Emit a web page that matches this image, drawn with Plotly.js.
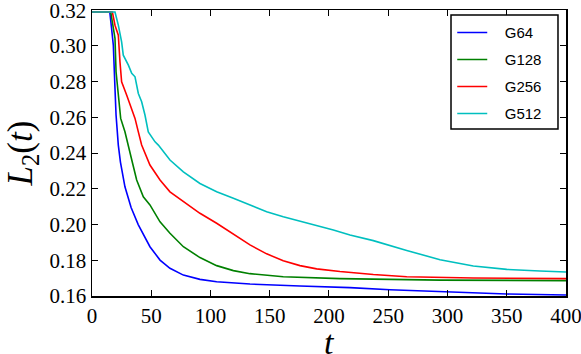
<!DOCTYPE html>
<html>
<head>
<meta charset="utf-8">
<script src="https://cdn.plot.ly/plotly-3.0.1.min.js"></script>
<style>
  html, body { margin: 0; padding: 0; background: #fff; }
  #grafica { width: 581px; height: 354px; }
</style>
</head>
<body>
<div id="grafica"></div>
<script>
// values
const tG64 = [0, 15, 16.5, 18, 19.4, 20.3, 22.2, 24, 27.8, 33, 39, 48.9, 57.4, 65.8, 77.1, 91.1, 105.2, 133.3, 175.5, 217.7, 251.5, 293.7, 350, 400];
const yG64 = [0.319, 0.319, 0.310, 0.3004, 0.2762, 0.2613, 0.2445, 0.235, 0.2211, 0.2095, 0.2000, 0.1876, 0.1801, 0.1755, 0.1717, 0.1693, 0.1680, 0.1667, 0.1656, 0.1647, 0.1635, 0.1624, 0.1611, 0.1606];

const tG128 = [0, 15.8, 17.5, 19.4, 20.3, 22.2, 24.2, 27.8, 30.7, 34.3, 37.7, 43.3, 48.9, 57.4, 65.8, 77.1, 91.1, 105.2, 119.3, 133.3, 161.4, 209, 293.7, 400];
const yG128 = [0.319, 0.319, 0.312, 0.3042, 0.2855, 0.2706, 0.2594, 0.2519, 0.2445, 0.2342, 0.2249, 0.2155, 0.2110, 0.2015, 0.1951, 0.1876, 0.1815, 0.1770, 0.1742, 0.1725, 0.1708, 0.1697, 0.1689, 0.1686];

const tG256 = [0, 17.2, 19.4, 22.2, 23.6, 25, 29.3, 33.5, 36.3, 39.1, 41.9, 48.9, 57.4, 65.8, 77.1, 91.1, 105.2, 119.3, 133.3, 147.4, 161.4, 175.5, 189.6, 209.3, 237.4, 265.6, 321.8, 400];
const yG256 = [0.319, 0.319, 0.3116, 0.3060, 0.2911, 0.2799, 0.2724, 0.2650, 0.2594, 0.2519, 0.2445, 0.2333, 0.2249, 0.2183, 0.2128, 0.2063, 0.2007, 0.1944, 0.1886, 0.1836, 0.1797, 0.1770, 0.1752, 0.1737, 0.1720, 0.1708, 0.1701, 0.1697];

const tG512 = [0, 19.4, 22.2, 25, 26.4, 30.7, 33.5, 36.3, 39.1, 41.9, 44.7, 47.5, 53.2, 56, 65.8, 77.1, 91.1, 105.2, 119.3, 133.3, 147.4, 161.4, 175.5, 189.6, 203.7, 217.7, 237.4, 265.6, 293.7, 321.8, 350, 378, 400];
const yG512 = [0.319, 0.319, 0.3116, 0.3023, 0.2948, 0.2892, 0.2846, 0.2827, 0.2734, 0.2687, 0.2613, 0.2519, 0.2463, 0.2445, 0.2361, 0.2295, 0.2230, 0.2184, 0.2147, 0.2109, 0.2072, 0.2044, 0.2020, 0.1993, 0.1969, 0.1941, 0.1910, 0.1855, 0.1803, 0.1768, 0.1749, 0.1740, 0.1734];

const nombres = ['G64', 'G128', 'G256', 'G512'];
const colores = ['#0000ff', '#008000', '#ff0000', '#00bfbf'];

const xs = [tG64, tG128, tG256, tG512];
const ys = [yG64, yG128, yG256, yG512];

// espacios para separar el texto de la linea en la leyenda
const hueco = '\u00a0\u00a0\u00a0';

let datos = nombres.map((nombre, i) => ({
    x: xs[i],
    y: ys[i],
    name: hueco + nombre,
    legendgroup: nombre,
    type: 'scatter',
    mode: 'lines',
    line: { color: colores[i], width: 1.6 }
}));

function eje(extra){
    return Object.assign({
        showline: true,
        linecolor: '#000',
        linewidth: 1.5,
        mirror: 'allticks',
        ticks: 'inside',
        ticklen: 6,
        tickwidth: 1,
        tickcolor: '#000',
        showgrid: false,
        zeroline: false,
        ticklabeloverflow: 'allow',
        tickfont: { family: 'Liberation Serif', size: 21, color: '#000' }
    }, extra);
}

let layout = {
    width: 581,
    height: 354,
    margin: { l: 92, r: 15, t: 10, b: 58 },
    paper_bgcolor: '#fff',
    plot_bgcolor: '#fff',
    showlegend: true,
    xaxis: eje({
        range: [0, 400.01],
        dtick: 50,
        tick0: 0
    }),
    yaxis: eje({
        range: [0.16, 0.3201],
        dtick: 0.02,
        tick0: 0.16,
        tickformat: '.2f',
        title: { text: '<i>L</i><sub>2</sub>(<i>t</i>)', font: { family: 'Liberation Serif', size: 35, color: '#000' }, standoff: 6 }
    }),
    // titulo del eje x como anotacion, para poder bajarlo
    annotations: [{
        text: '<i>t</i>',
        xref: 'paper', yref: 'paper',
        x: 0.5, y: -0.164,
        xanchor: 'center', yanchor: 'middle',
        showarrow: false,
        font: { family: 'Liberation Serif', size: 34, color: '#000' }
    }],
    // marco de la leyenda (mas ancho que el que calcula plotly)
    shapes: [{
        type: 'rect',
        xref: 'paper', yref: 'paper',
        x0: 0.7574, x1: 0.9831,
        y0: 0.5839, y1: 0.9825,
        layer: 'above',
        fillcolor: '#fff',
        line: { color: '#000', width: 1.5 }
    }],
    legend: {
        x: 0.76,
        y: 0.978,
        xanchor: 'left',
        yanchor: 'top',
        bgcolor: 'rgba(0,0,0,0)',
        borderwidth: 0,
        tracegroupgap: 4.5,
        font: { family: 'Liberation Sans', size: 15, color: '#000' }
    }
};

Plotly.newPlot('grafica', datos, layout, { displayModeBar: false, staticPlot: true });
</script>
</body>
</html>
